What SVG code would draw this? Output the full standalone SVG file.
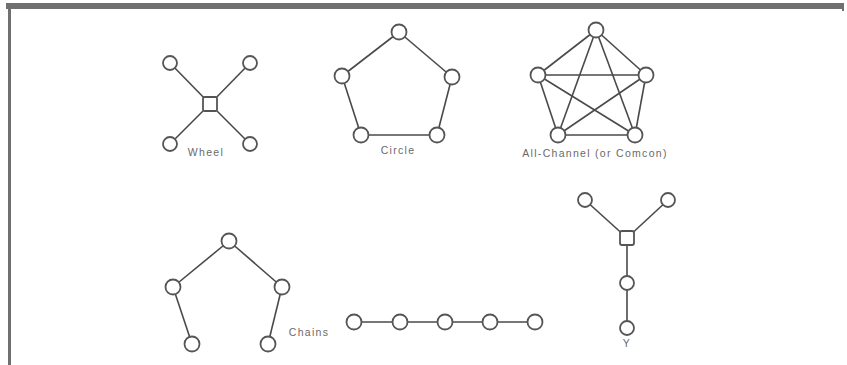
<svg xmlns="http://www.w3.org/2000/svg" width="847" height="365" viewBox="0 0 847 365">
<style>
.e{stroke:#4a4a4a;stroke-width:1.6;fill:none}
.n{fill:#fff;stroke:#555;stroke-width:1.8}
.t{font-family:"Liberation Sans",Arial,sans-serif;font-size:10.5px;letter-spacing:1.3px;fill:#6a6a6a;text-anchor:middle}
.f{fill:#707070}
</style>
<rect width="847" height="365" fill="#fff"/>
<g id="frame">
<rect class="f" x="6" y="3" width="838" height="6"/>
<rect class="f" x="8" y="3" width="3" height="362"/>
<rect class="f" x="842" y="3" width="2" height="8"/>
</g>
<g id="connectors">
<line class="e" x1="170" y1="63" x2="210" y2="104"/>
<line class="e" x1="250" y1="63" x2="210" y2="104"/>
<line class="e" x1="170" y1="144" x2="210" y2="104"/>
<line class="e" x1="250" y1="144" x2="210" y2="104"/>
<line class="e" x1="399" y1="32" x2="342" y2="76"/>
<line class="e" x1="399" y1="32" x2="452" y2="77"/>
<line class="e" x1="342" y1="76" x2="361" y2="135"/>
<line class="e" x1="452" y1="77" x2="437" y2="135"/>
<line class="e" x1="361" y1="135" x2="437" y2="135"/>
<line class="e" x1="596" y1="30" x2="538" y2="75"/>
<line class="e" x1="596" y1="30" x2="646" y2="75"/>
<line class="e" x1="596" y1="30" x2="558" y2="135"/>
<line class="e" x1="596" y1="30" x2="635" y2="135"/>
<line class="e" x1="538" y1="75" x2="646" y2="75"/>
<line class="e" x1="538" y1="75" x2="558" y2="135"/>
<line class="e" x1="538" y1="75" x2="635" y2="135"/>
<line class="e" x1="646" y1="75" x2="558" y2="135"/>
<line class="e" x1="646" y1="75" x2="635" y2="135"/>
<line class="e" x1="558" y1="135" x2="635" y2="135"/>
<line class="e" x1="229" y1="241" x2="173" y2="287"/>
<line class="e" x1="229" y1="241" x2="282" y2="287"/>
<line class="e" x1="173" y1="287" x2="192" y2="344"/>
<line class="e" x1="282" y1="287" x2="268" y2="344"/>
<line class="e" x1="354" y1="322" x2="535" y2="322"/>
<line class="e" x1="585" y1="200" x2="627" y2="238"/>
<line class="e" x1="668" y1="200" x2="627" y2="238"/>
<line class="e" x1="627" y1="238" x2="627" y2="328"/>
</g>
<g id="wheel">
<circle class="n" cx="170" cy="63" r="7"/>
<circle class="n" cx="250" cy="63" r="7"/>
<rect class="n" x="203" y="97" width="14" height="14" rx="1.5"/>
<circle class="n" cx="170" cy="144" r="7"/>
<circle class="n" cx="250" cy="144" r="7"/>
<text class="t" x="206" y="156">Wheel</text>
</g>
<g id="circle">
<circle class="n" cx="399" cy="32" r="7.5"/>
<circle class="n" cx="342" cy="76" r="7.5"/>
<circle class="n" cx="452" cy="77" r="7.5"/>
<circle class="n" cx="361" cy="135" r="7.5"/>
<circle class="n" cx="437" cy="135" r="7.5"/>
<text class="t" x="398" y="154">Circle</text>
</g>
<g id="allchannel">
<circle class="n" cx="596" cy="30" r="7.5"/>
<circle class="n" cx="538" cy="75" r="7.5"/>
<circle class="n" cx="646" cy="75" r="7.5"/>
<circle class="n" cx="558" cy="135" r="7.5"/>
<circle class="n" cx="635" cy="135" r="7.5"/>
<text class="t" x="595" y="157">All-Channel (or Comcon)</text>
</g>
<g id="chains">
<circle class="n" cx="229" cy="241" r="7.5"/>
<circle class="n" cx="173" cy="287" r="7.5"/>
<circle class="n" cx="282" cy="287" r="7.5"/>
<circle class="n" cx="192" cy="344" r="7.5"/>
<circle class="n" cx="268" cy="344" r="7.5"/>
<text class="t" x="309" y="336">Chains</text>
</g>
<g id="line">
<circle class="n" cx="354" cy="322" r="7.5"/>
<circle class="n" cx="400" cy="322" r="7.5"/>
<circle class="n" cx="445" cy="322" r="7.5"/>
<circle class="n" cx="490" cy="322" r="7.5"/>
<circle class="n" cx="535" cy="322" r="7.5"/>
</g>
<g id="y">
<circle class="n" cx="585" cy="200" r="7"/>
<circle class="n" cx="668" cy="200" r="7"/>
<rect class="n" x="620" y="231" width="14" height="14" rx="2"/>
<circle class="n" cx="627" cy="283" r="7"/>
<circle class="n" cx="627" cy="328" r="7"/>
<text class="t" x="627" y="347">Y</text>
</g>
</svg>
